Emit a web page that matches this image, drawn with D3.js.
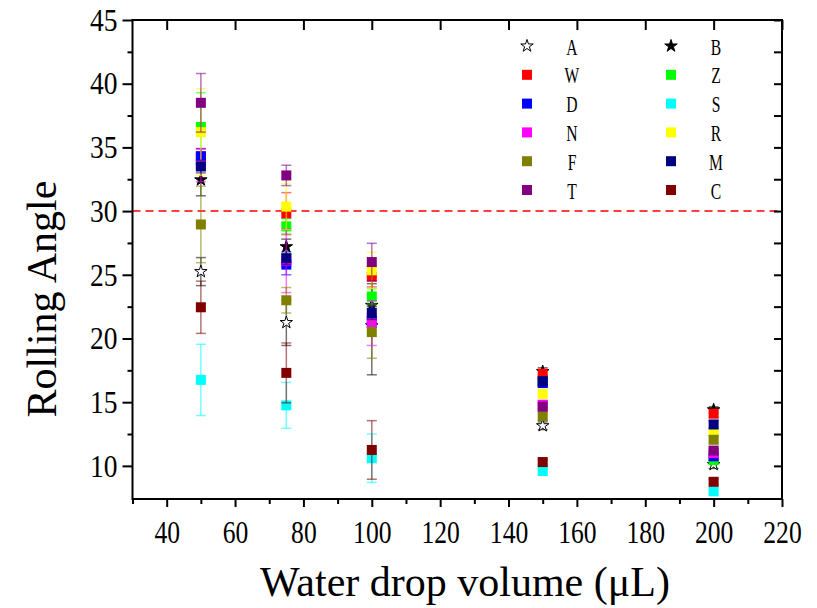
<!DOCTYPE html>
<html>
<head>
<meta charset="utf-8">
<script src="https://cdn.jsdelivr.net/npm/d3@7"></script>
<style>
body { margin: 0; background: #fff; }
</style>
</head>
<body>
<div id="chart"></div>
<script>
// water drop volumes (uL)
let volumes = [50, 75, 100, 150, 200]

// rolling angle per sample, with error bar half-lengths
let angleA = [25.25, 21.25, 21.0, 13.15, 10.1]
let errA   = [1.1, 1.8, 3.85, 0.3, 0.3]
let angleB = [32.45, 27.2, 22.6, 17.4, 14.4]
let errB   = [1.25, 0.6, 1.7, 0.3, 0.25]
let angleW = [34.3, 29.8, 24.85, 17.2, 14.1]
let errW   = [0.6, 1.65, 0.8, 0.4, 0.3]
let angleZ = [36.6, 28.8, 23.3, 16.6, 10.45]
let errZ   = [2.7, 0.6, 0.6, 0.3, 0.2]
let angleD = [34.3, 25.8, 21.4, 16.5, 10.75]
let errD   = [0.6, 0.8, 0.5, 0.3, 0.2]
let angleS = [16.75, 14.75, 10.6, 9.6, 8.0]
let errS   = [2.8, 1.8, 1.9, 0.2, 0.2]
let angleN = [33.6, 26.1, 21.2, 14.8, 11.0]
let errN   = [1.3, 2.5, 1.75, 0.3, 0.3]
let angleR = [36.2, 30.35, 25.35, 15.65, 12.55]
let errR   = [3.4, 1.8, 1.42, 0.3, 0.3]
let angleF = [28.95, 23.0, 20.5, 13.9, 12.05]
let errF   = [3.0, 1.0, 2.05, 0.3, 0.3]
let angleM = [33.5, 26.3, 22.0, 16.65, 13.25]
let errM   = [0.5, 0.5, 0.5, 0.3, 0.3]
let angleT = [38.5, 32.8, 26.0, 14.65, 11.2]
let errT   = [2.3, 0.8, 1.47, 0.3, 0.3]
let angleC = [22.45, 17.3, 11.25, 10.3, 8.75]
let errC   = [2.05, 2.35, 2.3, 0.2, 0.2]

let seriesNames = ["A","B","W","Z","D","S","N","R","F","M","T","C"]
let threshold = 30
let xTicks = d3.range(40, 221, 20)
let xMinorTicks = d3.range(30, 221, 20)
let yTicks = d3.range(10, 46, 5)
let yMinorTicks = d3.range(12.5, 45, 5)

let serif = "'Liberation Serif', 'Times New Roman', serif"

function drawRollingVis(){
    let width = 817
    let height = 608
    let plot = {left: 132.5, right: 782, top: 20, bottom: 499}

    let colours = {A:"#000", B:"#000", W:"#ff0000", Z:"#00ff00", D:"#0000ff", S:"#00ffff",
                   N:"#ff00ff", R:"#ffff00", F:"#808000", M:"#000080", T:"#800080", C:"#800000"}
    let angles = {A:angleA, B:angleB, W:angleW, Z:angleZ, D:angleD, S:angleS,
                  N:angleN, R:angleR, F:angleF, M:angleM, T:angleT, C:angleC}
    let errs = {A:errA, B:errB, W:errW, Z:errZ, D:errD, S:errS,
                N:errN, R:errR, F:errF, M:errM, T:errT, C:errC}

    let series = seriesNames.map(function(name){
        return {
            name: name,
            colour: colours[name],
            points: volumes.map((v,i) => ({x: v, y: angles[name][i], e: errs[name][i]}))
        }
    })

    let svg = d3.select("#chart")
        .append("svg")
            .attr("width", width)
            .attr("height", height)

    let xScale = d3.scaleLinear()
        .domain([30, 220])
        .range([plot.left, plot.right])
    let yScale = d3.scaleLinear()
        .domain([7.4, 45])
        .range([plot.bottom, plot.top])

    // threshold line
    svg.append("line")
        .attr("x1", plot.left)
        .attr("x2", plot.right)
        .attr("y1", yScale(threshold))
        .attr("y2", yScale(threshold))
        .attr("stroke", "#ff0000")
        .attr("stroke-width", 1.5)
        .attr("stroke-dasharray", "8,5")

    let starSym = d3.symbol().type(d3.symbolStar).size(48)
    let sq = 10
    let cap = 5

    series.forEach(function(s){
        let g = svg.append("g").attr("class", "series" + s.name)
        let bars = g.selectAll(".errBar")
            .data(s.points)
            .enter()
            .append("g")
                .attr("class", "errBar")
                .attr("stroke", s.colour)
                .attr("stroke-opacity", 0.55)
                .attr("stroke-width", 1.5)
        bars.append("line")
            .attr("x1", d => xScale(d.x))
            .attr("x2", d => xScale(d.x))
            .attr("y1", d => yScale(d.y - d.e))
            .attr("y2", d => yScale(d.y + d.e))
        bars.append("line")
            .attr("x1", d => xScale(d.x) - cap)
            .attr("x2", d => xScale(d.x) + cap)
            .attr("y1", d => yScale(d.y + d.e))
            .attr("y2", d => yScale(d.y + d.e))
        bars.append("line")
            .attr("x1", d => xScale(d.x) - cap)
            .attr("x2", d => xScale(d.x) + cap)
            .attr("y1", d => yScale(d.y - d.e))
            .attr("y2", d => yScale(d.y - d.e))

        if (s.name == "A" || s.name == "B"){
            g.selectAll(".pt")
                .data(s.points)
                .enter()
                .append("path")
                    .attr("class", "pt")
                    .attr("d", starSym)
                    .attr("transform", d => "translate(" + xScale(d.x) + "," + yScale(d.y) + ")")
                    .attr("fill", s.name == "A" ? "#fff" : "#000")
                    .attr("stroke", "#000")
                    .attr("stroke-width", 1)
        } else {
            g.selectAll(".pt")
                .data(s.points)
                .enter()
                .append("rect")
                    .attr("class", "pt")
                    .attr("x", d => xScale(d.x) - sq/2)
                    .attr("y", d => yScale(d.y) - sq/2)
                    .attr("width", sq)
                    .attr("height", sq)
                    .attr("fill", s.colour)
        }
    })

    // axes
    let bottom = svg.append("g")
        .attr("transform", "translate(0," + plot.bottom + ")")
        .call(d3.axisBottom(xScale).tickValues(xTicks).tickSize(8).tickSizeOuter(0))
    bottom.selectAll("text")
        .attr("y", 44)
        .attr("dy", null)
        .attr("transform", "scale(0.8,1)")
        .attr("fill", "#000")
        .style("font-family", serif)
        .style("font-size", "32px")
    svg.append("g")
        .attr("transform", "translate(0," + plot.bottom + ")")
        .call(d3.axisBottom(xScale).tickValues(xMinorTicks).tickSize(5).tickSizeOuter(0).tickFormat(""))

    let left = svg.append("g")
        .attr("transform", "translate(" + plot.left + ",0)")
        .call(d3.axisLeft(yScale).tickValues(yTicks).tickSize(10).tickSizeOuter(0))
    left.selectAll("text")
        .attr("x", -15 / 0.86)
        .attr("transform", "scale(0.86,1)")
        .attr("fill", "#000")
        .style("font-family", serif)
        .style("font-size", "32px")
    svg.append("g")
        .attr("transform", "translate(" + plot.left + ",0)")
        .call(d3.axisLeft(yScale).tickValues(yMinorTicks).tickSize(5).tickSizeOuter(0).tickFormat(""))

    svg.append("g")
        .attr("transform", "translate(0," + plot.top + ")")
        .call(d3.axisBottom(xScale).tickValues(xTicks).tickSize(10).tickSizeOuter(0).tickFormat(""))
    svg.append("g")
        .attr("transform", "translate(" + plot.right + ",0)")
        .call(d3.axisLeft(yScale).tickValues(yTicks).tickSize(8).tickSizeOuter(0).tickFormat(""))
    svg.append("g")
        .attr("transform", "translate(" + plot.right + ",0)")
        .call(d3.axisLeft(yScale).tickValues(yMinorTicks).tickSize(8).tickSizeOuter(0).tickFormat(""))

    svg.selectAll(".domain").remove()
    svg.selectAll(".tick line").attr("stroke", "#000").attr("stroke-width", 2)

    svg.append("rect")
        .attr("x", plot.left)
        .attr("y", plot.top)
        .attr("width", plot.right - plot.left)
        .attr("height", plot.bottom - plot.top)
        .attr("fill", "none")
        .attr("stroke", "#000")
        .attr("stroke-width", 2)

    // legend, two columns
    let legend = svg.selectAll(".legendItem")
        .data(series)
        .enter()
        .append("g")
            .attr("class", "legendItem")
            .attr("transform", function(d,i){
                let col = i % 2
                let row = Math.floor(i/2)
                return "translate(" + (527 + col*144) + "," + (46 + row*28.8) + ")"
            })
    legend.each(function(d){
        let g = d3.select(this)
        if (d.name == "A" || d.name == "B"){
            g.append("path")
                .attr("d", starSym)
                .attr("fill", d.name == "A" ? "#fff" : "#000")
                .attr("stroke", "#000")
                .attr("stroke-width", 1)
        } else {
            g.append("rect")
                .attr("x", -sq/2)
                .attr("y", -sq/2)
                .attr("width", sq)
                .attr("height", sq)
                .attr("fill", d.colour)
        }
        g.append("text")
            .attr("transform", "translate(45,8.5) scale(0.68,1)")
            .attr("text-anchor", "middle")
            .style("font-family", serif)
            .style("font-size", "23px")
            .text(d.name)
    })

    // titles
    svg.append("text")
        .attr("transform", "translate(56,299) rotate(-90)")
        .attr("text-anchor", "middle")
        .style("font-family", serif)
        .style("font-size", "42px")
        .text("Rolling Angle")
    svg.append("text")
        .attr("x", 465)
        .attr("y", 596)
        .attr("text-anchor", "middle")
        .style("font-family", serif)
        .style("font-size", "42px")
        .text("Water drop volume (\u03BCL)")
}
drawRollingVis()
</script>
</body>
</html>
